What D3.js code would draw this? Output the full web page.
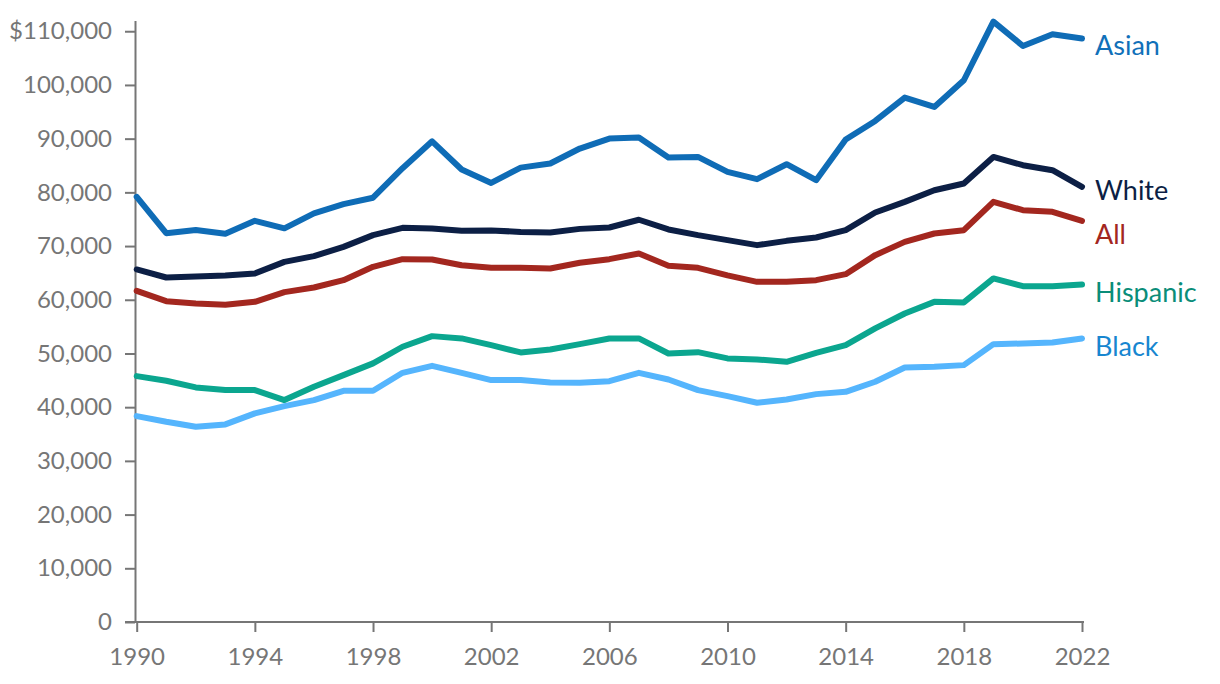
<!DOCTYPE html>
<html>
<head>
<meta charset="utf-8">
<script src="https://cdn.jsdelivr.net/npm/d3@7"></script>
<style>
  html, body { margin: 0; padding: 0; background: #fff; }
  svg { display: block; font-family: Lato, "Open Sans", sans-serif; }
</style>
</head>
<body>
<svg id="chart" width="1220" height="684"></svg>
<script>
const years = d3.range(1990, 2023);
const asian = [79150, 72400, 73000, 72300, 74700, 73300, 76100, 77800, 79000, 84500,
  89500, 84250, 81760, 84600, 85370, 88160, 90020, 90200, 86490, 86600,
  83800, 82450, 85240, 82260, 89840, 93300, 97650, 95900, 100870, 111800,
  107260, 109430, 108640];
const white = [65640, 64150, 64340, 64530, 64900, 67060, 68120, 69850, 72030, 73390,
  73270, 72830, 72900, 72640, 72530, 73200, 73460, 74900, 73090, 72030,
  71100, 70170, 70970, 71600, 72960, 76250, 78230, 80400, 81650, 86600,
  85060, 84130, 81020];
const all = [61660, 59740, 59310, 59060, 59620, 61420, 62290, 63650, 66130, 67560,
  67500, 66440, 65950, 65950, 65830, 66880, 67560, 68620, 66320, 65950,
  64530, 63340, 63340, 63650, 64770, 68310, 70780, 72340, 72960, 78230,
  76680, 76370, 74690];
const hispanic = [45780, 44920, 43680, 43180, 43180, 41320, 43800, 45970, 48150, 51250,
  53230, 52800, 51550, 50190, 50750, 51740, 52800, 52800, 50000, 50250,
  49080, 48890, 48450, 50120, 51550, 54660, 57450, 59610, 59500, 63970,
  62530, 62530, 62840];
const black = [38340, 37280, 36350, 36790, 38840, 40200, 41320, 43050, 43050, 46400,
  47700, 46400, 45040, 45040, 44610, 44540, 44850, 46400, 45160, 43180,
  42060, 40820, 41440, 42430, 42860, 44730, 47400, 47520, 47830, 51740,
  51860, 52050, 52800];
const seriesNames = ["Black", "Hispanic", "All", "White", "Asian"];
const seriesValues = [black, hispanic, all, white, asian];
const lineColors = ["#55b5fd", "#0ba68f", "#a3271f", "#0c1f45", "#0f6cb6"];
const textColors = ["#1786d0", "#0a8d79", "#a3271f", "#0c1f45", "#1170b9"];
const labelY = [356, 302, 244, 200, 55];
const yTicks = d3.range(0, 110001, 10000);
const xTicks = [1990, 1994, 1998, 2002, 2006, 2010, 2014, 2018, 2022];

const svg = d3.select("#chart");
const x = d3.scaleLinear().domain([1990, 2022]).range([136.7, 1082]);
const y = d3.scaleLinear().domain([0, 112000]).range([622, 20.5]);
const axisColor = "#767676";

// Y axis
const yAxis = svg.append("g").attr("transform", "translate(135,0)")
  .call(d3.axisLeft(y).tickValues(yTicks).tickSize(10).tickSizeOuter(0).tickPadding(13)
    .tickFormat(d => d === 110000 ? "$110,000" : d3.format(",")(d)));
yAxis.selectAll("path, line").attr("stroke", axisColor).attr("stroke-width", 2);
yAxis.selectAll("text").attr("fill", axisColor).style("font-size", "24px").style("font-family", "Lato");

// X axis
const xAxis = svg.append("g").attr("transform", "translate(0,622)")
  .call(d3.axisBottom(x).tickValues(xTicks).tickSize(10).tickSizeOuter(0).tickPadding(16)
    .tickFormat(d3.format("d")));
xAxis.select("path.domain").remove();
xAxis.append("line").attr("x1", 125).attr("x2", 1084).attr("y1", 0).attr("y2", 0);
xAxis.selectAll("line").attr("stroke", axisColor).attr("stroke-width", 2);
xAxis.selectAll("text").attr("fill", axisColor).style("font-size", "24px").style("font-family", "Lato");

// Lines
const line = d3.line().x((d, i) => x(years[i])).y(d => y(d));
seriesValues.forEach((vals, k) => {
  svg.append("path").datum(vals)
    .attr("d", line)
    .attr("fill", "none")
    .attr("stroke", lineColors[k])
    .attr("stroke-width", 6)
    .attr("stroke-linejoin", "round")
    .attr("stroke-linecap", "round");
  svg.append("text")
    .attr("x", 1095)
    .attr("y", labelY[k])
    .attr("fill", textColors[k])
    .style("font-size", "27px")
    .style("font-family", "Lato")
    .text(seriesNames[k]);
});
</script>
</body>
</html>
